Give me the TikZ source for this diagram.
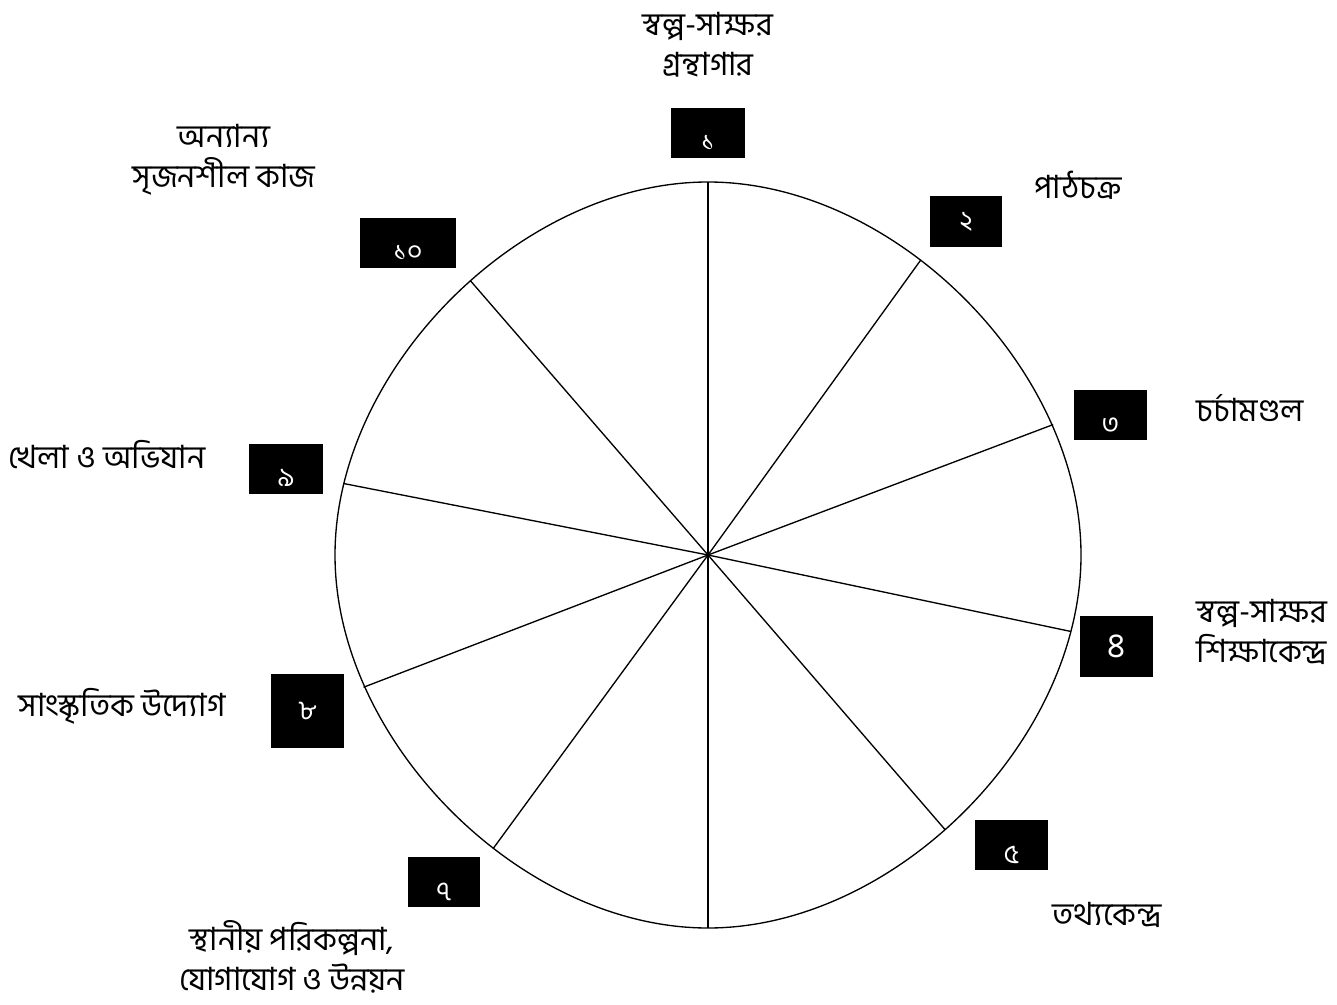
\documentclass[tikz,border=0pt]{standalone}
\usepackage{fontspec}
\newfontfamily\bangla[Script=Bengali]{Hind Siliguri}
\usetikzlibrary{positioning,calc}

\begin{document}
\begin{tikzpicture}[
    x=0.75pt, y=0.75pt,
    font=\bangla\fontsize{24}{30}\selectfont,
    topic/.style={
        align=center,
        inner sep=0pt
    },
    numbox/.style={
        fill=black,
        text=white,
        inner sep=0pt,
        minimum width=55pt,
        minimum height=37.5pt,
        font=\bangla\fontsize{20}{20}\selectfont
    },
    low/.style={
        text height=27pt,
        text depth=0pt
    },
    spoke/.style={
        line width=1pt
    }
]
    \useasboundingbox (0,0) rectangle (1337,-1005);

    % 1. Wheel
    \coordinate (hub) at (708,-555);
    \draw[spoke] (1081,-555)
        .. controls (1081,-368.5) and (894.5,-182) .. (708,-182)
        .. controls (521.5,-182) and (335,-368.5) .. (335,-555)
        .. controls (335,-741.5) and (521.5,-928) .. (708,-928)
        .. controls (894.5,-928) and (1081,-741.5) .. (1081,-555) -- cycle;
    \foreach \ang/\r [count=\i] in {90/373, 54.2/364, 20.7/369, -11.9/371, -49.2/363,
                                   -90/373, -126.2/364, 201/369, 168.9/371, 130.9/363} {
        \coordinate (rim\i) at ($(hub)+(\ang:\r)$);
        \draw[spoke] (hub) -- (rim\i);
    }

    % 2. Number boxes
    \node[numbox, low] (n1) at (708,-133) {১};
    \node[numbox, minimum width=54pt, minimum height=38pt] (n2) at (966,-221.5) {২};
    \node[numbox, low] (n3) at (1110.5,-415) {৩};
    \node[numbox, minimum height=46pt, font=\bangla\fontsize{26}{26}\selectfont] (n4) at (1116.5,-646.5) {৪};
    \node[numbox, low] (n5) at (1011.5,-845) {৫};
    \node[numbox, low, minimum width=54pt] (n7) at (444,-882) {৭};
    \node[numbox, minimum height=55.5pt] (n8) at (307.5,-711) {৮};
    \node[numbox, low] (n9) at (286,-468.5) {৯};
    \node[numbox, low, minimum width=72pt] (n10) at (408,-243) {১০};

    % 3. Topics
    \node[topic] (t1) at (708,-45) {স্বল্প-সাক্ষর\\গ্রন্থাগার};
    \node[topic] (t2) at (1078,-185) {পাঠচক্র};
    \node[topic] (t3) at (1250,-408) {চর্চামণ্ডল};
    \node[topic] (t4) at (1262,-632) {স্বল্প-সাক্ষর\\শিক্ষাকেন্দ্র};
    \node[topic] (t5) at (1107,-915) {তথ্যকেন্দ্র};
    \node[topic] (t7) at (292,-957) {স্থানীয় পরিকল্পনা,\\যোগাযোগ ও উন্নয়ন};
    \node[topic] (t8) at (122,-706) {সাংস্কৃতিক উদ্যোগ};
    \node[topic] (t9) at (107,-455) {খেলা ও অভিযান};
    \node[topic] (t10) at (224,-160) {অন্যান্য\\সৃজনশীল কাজ};

\end{tikzpicture}
\end{document}
